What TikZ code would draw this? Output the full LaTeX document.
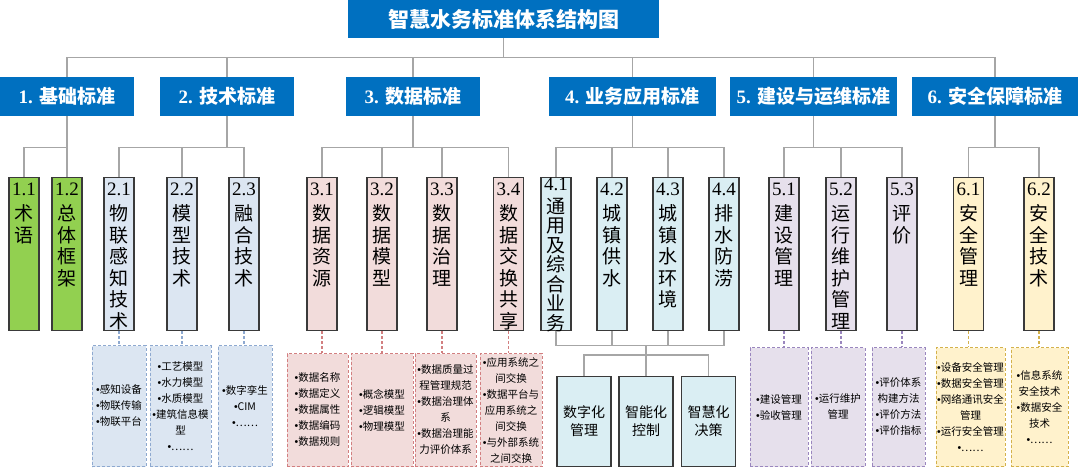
\documentclass[tikz,border=0pt]{standalone}
\usepackage{fontspec}
\setmainfont{Liberation Serif}
\newfontfamily\cjk{Noto Sans CJK SC}
\newfontfamily\latn{Liberation Sans}
\definecolor{hblue}{HTML}{0070C0}
\definecolor{lgray}{HTML}{A6A6A6}
\definecolor{bdark}{HTML}{3A3A3A}
\definecolor{cgreen}{HTML}{92D050}
\definecolor{cblue}{HTML}{DCE6F2}
\definecolor{cpink}{HTML}{F2DCDB}
\definecolor{ccyan}{HTML}{DAEEF3}
\definecolor{clav}{HTML}{E6E0EC}
\definecolor{ccream}{HTML}{FFF2CC}
\definecolor{eblue}{HTML}{8EA9D0}
\definecolor{epink}{HTML}{D27F80}
\definecolor{elav}{HTML}{9A86BE}
\definecolor{egold}{HTML}{D4B24C}
\newcommand{\vtxt}[4][21.5]{\parbox[c][153pt][t]{30pt}{\centering\fontsize{19}{#1}\selectfont\rule{0pt}{#2}#3\\[3.5pt]\cjk #4}}
\newcommand{\bul}{{\latn •}}
\begin{document}
\begin{tikzpicture}[x=1pt,y=-1pt,
        conn/.style={draw=lgray,line width=1.2pt},
        dconn/.style={line width=1.2pt,dash pattern=on 3pt off 2pt},
        head/.style={fill=hblue,text=white,inner sep=0,minimum height=39pt,font=\fontsize{19}{19}\selectfont\bfseries},
        sub/.style={draw=bdark,line width=1.2pt,inner sep=0,minimum width=30pt,minimum height=153pt,anchor=north},
        det/.style={line width=1pt,dash pattern=on 3pt off 2pt,inner sep=0,anchor=north,align=center,font=\cjk\fontsize{10.5}{16}\selectfont},
        res/.style={draw=bdark,line width=1.2pt,fill=ccyan,minimum width=54pt,minimum height=90pt,inner sep=0,anchor=north,align=center,font=\cjk\fontsize{14}{18}\selectfont}]
                \useasboundingbox (0,0) rectangle (1080,469);

                \node[head,minimum width=311pt,minimum height=38pt,font=\cjk\bfseries\fontsize{21}{21}\selectfont] (t) at (503.5,19) {智慧水务标准体系结构图};

                \node[head,minimum width=134pt] (g1) at (67,96.5) {1. {\cjk 基础标准}};
                \node[head,minimum width=134pt] (g2) at (227,96.5) {2. {\cjk 技术标准}};
                \node[head,minimum width=134pt] (g3) at (413,96.5) {3. {\cjk 数据标准}};
                \node[head,minimum width=167pt] (g4) at (632.5,96.5) {4. {\cjk 业务应用标准}};
                \node[head,minimum width=167pt] (g5) at (813.5,96.5) {5. {\cjk 建设与运维标准}};
                \node[head,minimum width=166pt] (g6) at (995,96.5) {6. {\cjk 安全保障标准}};

                \node[sub,fill=cgreen] (s11) at (24,177) {\vtxt{18pt}{1.1}{术\\语}};
                \node[sub,fill=cgreen] (s12) at (67,177) {\vtxt{18pt}{1.2}{总\\体\\框\\架}};
                \node[sub,fill=cblue] (s21) at (119,177) {\vtxt{18pt}{2.1}{物\\联\\感\\知\\技\\术}};
                \node[sub,fill=cblue] (s22) at (182,177) {\vtxt{18pt}{2.2}{模\\型\\技\\术}};
                \node[sub,fill=cblue] (s23) at (244,177) {\vtxt{18pt}{2.3}{融\\合\\技\\术}};
                \node[sub,fill=cpink] (s31) at (322,177) {\vtxt{18pt}{3.1}{数\\据\\资\\源}};
                \node[sub,fill=cpink] (s32) at (382,177) {\vtxt{18pt}{3.2}{数\\据\\模\\型}};
                \node[sub,fill=cpink] (s33) at (442,177) {\vtxt{18pt}{3.3}{数\\据\\治\\理}};
                \node[sub,fill=cpink] (s34) at (508.5,177) {\vtxt{18pt}{3.4}{数\\据\\交\\换\\共\\享}};
                \node[sub,fill=ccyan] (s41) at (556,177) {\vtxt[19.5]{10pt}{4.1}{通\\用\\及\\综\\合\\业\\务}};
                \node[sub,fill=ccyan] (s42) at (612,177) {\vtxt{18pt}{4.2}{城\\镇\\供\\水}};
                \node[sub,fill=ccyan] (s43) at (668,177) {\vtxt{18pt}{4.3}{城\\镇\\水\\环\\境}};
                \node[sub,fill=ccyan] (s44) at (724,177) {\vtxt{18pt}{4.4}{排\\水\\防\\涝}};
                \node[sub,fill=clav] (s51) at (784,177) {\vtxt{18pt}{5.1}{建\\设\\管\\理}};
                \node[sub,fill=clav] (s52) at (841,177) {\vtxt{18pt}{5.2}{运\\行\\维\\护\\管\\理}};
                \node[sub,fill=clav] (s53) at (902,177) {\vtxt{18pt}{5.3}{评\\价}};
                \node[sub,fill=ccream] (s61) at (968.5,177) {\vtxt{18pt}{6.1}{安\\全\\管\\理}};
                \node[sub,fill=ccream] (s62) at (1039,177) {\vtxt{18pt}{6.2}{安\\全\\技\\术}};

                \node[det,draw=eblue,fill=cblue,minimum width=54pt,minimum height=121pt] (d21) at (119,345) {\bul 感知设备\\\bul 物联传输\\\bul 物联平台};
                \node[det,draw=eblue,fill=cblue,minimum width=61pt,minimum height=121pt] (d22) at (180.5,345) {\bul 工艺模型\\\bul 水力模型\\\bul 水质模型\\\bul 建筑信息模\\型\\\bul ……};
                \node[det,draw=eblue,fill=cblue,minimum width=54pt,minimum height=121pt] (d23) at (245,345) {\bul 数字孪生\\\bul CIM\\\bul ……};
                \node[det,draw=epink,fill=cpink,minimum width=61pt,minimum height=113pt] (d31) at (317.5,353) {\bul 数据名称\\\bul 数据定义\\\bul 数据属性\\\bul 数据编码\\\bul 数据规则};
                \node[det,draw=epink,fill=cpink,minimum width=62pt,minimum height=113pt] (d32) at (382,353) {\bul 概念模型\\\bul 逻辑模型\\\bul 物理模型};
                \node[det,draw=epink,fill=cpink,minimum width=61pt,minimum height=113pt] (d33) at (445.5,353) {\bul 数据质量过\\程管理规范\\\bul 数据治理体\\系\\\bul 数据治理能\\力评价体系};
                \node[det,draw=epink,fill=cpink,minimum width=62pt,minimum height=113pt] (d34) at (511,353) {\bul 应用系统之\\间交换\\\bul 数据平台与\\应用系统之\\间交换\\\bul 与外部系统\\之间交换};
                \node[det,draw=elav,fill=clav,minimum width=58pt,minimum height=119pt] (d51) at (779,347) {\bul 建设管理\\\bul 验收管理};
                \node[det,draw=elav,fill=clav,minimum width=54pt,minimum height=119pt] (d52) at (838,347) {\bul 运行维护\\管理};
                \node[det,draw=elav,fill=clav,minimum width=53pt,minimum height=119pt] (d53) at (898.5,347) {\bul 评价体系\\构建方法\\\bul 评价方法\\\bul 评价指标};
                \node[det,draw=egold,fill=ccream,minimum width=69pt,minimum height=119pt] (d61) at (970.5,347) {\bul 设备安全管理\\\bul 数据安全管理\\\bul 网络通讯安全\\管理\\\bul 运行安全管理\\\bul ……};
                \node[det,draw=egold,fill=ccream,minimum width=57pt,minimum height=119pt] (d62) at (1039.5,347) {\bul 信息系统\\安全技术\\\bul 数据安全\\技术\\\bul ……};

                \node[res] (b1) at (584,376) {数字化\\管理};
                \node[res] (b2) at (646,376) {智能化\\控制};
                \node[res] (b3) at (708.5,376) {智慧化\\决策};

                \draw[conn] (t.south) -- ++(0,19) -| (g1.north);
                \draw[conn] (t.south) -- ++(0,19) -| (g2.north);
                \draw[conn] (t.south) -- ++(0,19) -| (g3.north);
                \draw[conn] (t.south) -- ++(0,19) -| (g4.north);
                \draw[conn] (t.south) -- ++(0,19) -| (g5.north);
                \draw[conn] (t.south) -- ++(0,19) -| (g6.north);

                \draw[conn] (g1.south) -- ++(0,31) -| (s11.north);
                \draw[conn] (g1.south) -- ++(0,31) -| (s12.north);

                \draw[conn] (g2.south) -- ++(0,31) -| (s21.north);
                \draw[conn] (g2.south) -- ++(0,31) -| (s22.north);
                \draw[conn] (g2.south) -- ++(0,31) -| (s23.north);

                \draw[conn] (g3.south) -- ++(0,31) -| (s31.north);
                \draw[conn] (g3.south) -- ++(0,31) -| (s32.north);
                \draw[conn] (g3.south) -- ++(0,31) -| (s33.north);
                \draw[conn] (g3.south) -- ++(0,31) -| (s34.north);

                \draw[conn] (g4.south) -- ++(0,31) -| (s41.north);
                \draw[conn] (g4.south) -- ++(0,31) -| (s42.north);
                \draw[conn] (g4.south) -- ++(0,31) -| (s43.north);
                \draw[conn] (g4.south) -- ++(0,31) -| (s44.north);

                \draw[conn] (g5.south) -- ++(0,31) -| (s51.north);
                \draw[conn] (g5.south) -- ++(0,31) -| (s52.north);
                \draw[conn] (g5.south) -- ++(0,31) -| (s53.north);

                \draw[conn] (g6.south) -- ++(0,31) -| (s61.north);
                \draw[conn] (g6.south) -- ++(0,31) -| (s62.north);

                \draw[conn] (s41.south) -- ++(0,14) -| (b2.north);
                \draw[conn] (s42.south) -- ++(0,14) -| (b2.north);
                \draw[conn] (s43.south) -- ++(0,14) -| (b2.north);
                \draw[conn] (s44.south) -- ++(0,14) -| (b2.north);
                \draw[conn] (b2.north) -- ++(0,-21) -| (b1.north);
                \draw[conn] (b2.north) -- ++(0,-21) -| (b3.north);

                \draw[dconn,eblue] (s21.south) -- (s21.south |- d21.north);
                \draw[dconn,eblue] (s22.south) -- (s22.south |- d22.north);
                \draw[dconn,eblue] (s23.south) -- (s23.south |- d23.north);
                \draw[dconn,epink] (s31.south) -- (s31.south |- d31.north);
                \draw[dconn,epink] (s32.south) -- (s32.south |- d32.north);
                \draw[dconn,epink] (s33.south) -- (s33.south |- d33.north);
                \draw[dconn,epink] (s34.south) -- (s34.south |- d34.north);
                \draw[dconn,elav] (s51.south) -- (s51.south |- d51.north);
                \draw[dconn,elav] (s52.south) -- (s52.south |- d52.north);
                \draw[dconn,elav] (s53.south) -- (s53.south |- d53.north);
                \draw[dconn,egold] (s61.south) -- (s61.south |- d61.north);
                \draw[dconn,egold] (s62.south) -- (s62.south |- d62.north);
            \end{tikzpicture}
\end{document}
